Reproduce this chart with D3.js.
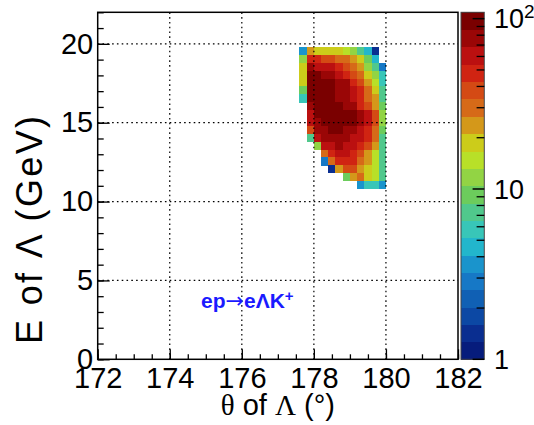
<!DOCTYPE html>
<html>
<head>
<meta charset="utf-8">
<script src="https://cdn.jsdelivr.net/npm/d3@7"></script>
<style>
  body { margin: 0; background: #fff; }
  svg { display: block; }
  text { font-family: "Liberation Sans", Arial, sans-serif; fill: #000; }
</style>
</head>
<body>
<svg id="chart" width="534" height="425"></svg>
<script>
// Lower bin edges of the 2D histogram (theta in degrees, energy in GeV)
const thetaLow = [177.6, 177.8, 178.0, 178.2, 178.4, 178.6, 178.8, 179.0, 179.2, 179.4, 179.6, 179.8];
const energyLow = [19.3, 18.8, 18.3, 17.8, 17.3, 16.8, 16.3, 15.8, 15.3, 14.8, 14.3, 13.8, 13.3, 12.8, 12.3, 11.8, 11.3, 10.8];

// Bin contents, one row per energy bin (top row = highest energy), 0 = empty
const counts = [
  [ 4, 24,  19,  18,  20,  17, 15, 12,  7,  5, 1.4, 0],
  [12, 46,  44,  38,  36,  31, 29, 23, 18,  9,  5,  0],
  [18, 74,  62,  60,  57,  47, 39, 30, 24, 12,  7,  3],
  [19, 92,  90,  80,  76,  63, 49, 40, 31, 19, 11,  6],
  [17, 98, 101,  96,  91,  82, 75, 50, 37, 25, 15,  6],
  [ 9, 97, 104, 102,  95,  84, 78, 64, 47, 30, 20,  7],
  [ 6, 94, 106, 105,  98,  86, 80, 66, 51, 32, 23,  8],
  [ 0, 84, 100, 107, 102,  93, 85, 72, 53, 40, 24,  9],
  [ 0, 64,  96, 103, 105,  99, 95, 88, 78, 62, 38, 11],
  [ 0, 58,  84,  97, 104, 101, 97, 90, 80, 65, 41, 13],
  [ 0, 36,  79,  83,  94,  92, 85, 80, 63, 49, 31, 10],
  [ 0,  8,  66,  76,  82,  84, 79, 67, 60, 46, 33,  8],
  [ 0,  0,  12,  61,  65,  71, 66, 59, 50, 41, 26,  8],
  [ 0,  0,   0,  29,  48,  58, 56, 47, 39, 24, 16,  7],
  [ 0,  0,   0,   3,  30,  45, 52, 44, 32, 22, 15,  7],
  [ 0,  0,   0,   0, 1.4,  23, 37, 35, 25, 18, 14,  8],
  [ 0,  0,   0,   0,   0,   0,  9, 22, 28, 19, 15,  7],
  [ 0,  0,   0,   0,   0,   0,  0,  0,  4,  6,  6,  4]
];

const xTickValues = [172, 174, 176, 178, 180, 182];
const yTickValues = [0, 5, 10, 15, 20];
const zRange = [1, 109];
const zLabels = [
  { value: 1, base: "1", exp: "" },
  { value: 10, base: "10", exp: "" },
  { value: 100, base: "10", exp: "2" }
];

// Colour levels, lowest to highest
const paletteColors = [
  "#061c7c", "#0a2e90", "#0c48a4", "#1060b4", "#1678c6",
  "#1a94cc", "#22b6cc", "#38c6b8", "#50c88c", "#6ccc5c",
  "#92d444", "#b8e028", "#cccc1a", "#d4981a", "#d66a18",
  "#d44a14", "#d02412", "#bb1010", "#9a0606", "#7a0000"
];

const svg = d3.select("#chart");
const W = 534, H = 425;
const frame = { left: 97.7, right: 458, top: 12.3, bottom: 359.3 };

const x = d3.scaleLinear().domain([172, 182]).range([frame.left, frame.right]);
const y = d3.scaleLinear().domain([0, 22]).range([frame.bottom, frame.top]);
const zPos = d3.scaleLog().domain(zRange).range([frame.bottom, frame.top]);

const nLevels = paletteColors.length;
const logMax = Math.log10(zRange[1]) - Math.log10(zRange[0]);
function colorOf(v) {
  const i = Math.floor(nLevels * (Math.log10(v) - Math.log10(zRange[0])) / logMax);
  return paletteColors[Math.max(0, Math.min(nLevels - 1, i))];
}

svg.append("rect").attr("width", W).attr("height", H).attr("fill", "#fff");

// Histogram cells
const dTheta = thetaLow[1] - thetaLow[0];
const dE = energyLow[0] - energyLow[1];
const cells = [];
counts.forEach((row, r) => row.forEach((v, c) => {
  if (v > 0) cells.push({ t: thetaLow[c], e: energyLow[r], v });
}));

svg.append("g").selectAll("rect").data(cells).join("rect")
  .attr("x", d => x(d.t))
  .attr("y", d => y(d.e + dE))
  .attr("width", d => x(d.t + dTheta) - x(d.t) + 0.3)
  .attr("height", d => y(d.e) - y(d.e + dE) + 0.3)
  .attr("fill", d => colorOf(d.v))
  .attr("shape-rendering", "crispEdges");

// Dotted grid
const grid = svg.append("g").attr("stroke", "#000").attr("stroke-width", 1.2)
  .attr("stroke-dasharray", "1.6,3.2");
grid.selectAll("line.gx").data(xTickValues.slice(1, -1)).join("line")
  .attr("x1", d => x(d)).attr("x2", d => x(d))
  .attr("y1", frame.top).attr("y2", frame.bottom);
grid.selectAll("line.gy").data(yTickValues.slice(1)).join("line")
  .attr("x1", frame.left).attr("x2", frame.right)
  .attr("y1", d => y(d)).attr("y2", d => y(d));

// Axes with ticks pointing into the frame
const labelSize = 29;
const xMinor = d3.range(172, 182.01, 0.5);
const yMinor = d3.range(0, 22.01, 1);

const xAxisMinor = d3.axisBottom(x).tickValues(xMinor).tickSizeInner(-5).tickSizeOuter(0).tickFormat("");
const xAxisMajor = d3.axisBottom(x).tickValues(xTickValues).tickSizeInner(-10).tickSizeOuter(0)
  .tickPadding(8).tickFormat(d3.format("d"));
const yAxisMinor = d3.axisLeft(y).tickValues(yMinor).tickSizeInner(-6).tickSizeOuter(0).tickFormat("");
const yAxisMajor = d3.axisLeft(y).tickValues(yTickValues).tickSizeInner(-12).tickSizeOuter(0)
  .tickPadding(4.5).tickFormat(d3.format("d"));

function styleAxis(g) {
  g.select(".domain").remove();
  g.selectAll(".tick line").attr("stroke", "#000").attr("stroke-width", 1.3);
  g.selectAll("text").attr("font-size", labelSize)
    .attr("font-family", '"Liberation Sans", Arial, sans-serif').attr("fill", "#000");
}
svg.append("g").attr("transform", `translate(0,${frame.bottom})`).call(xAxisMinor).call(styleAxis);
svg.append("g").attr("transform", `translate(0,${frame.bottom})`).call(xAxisMajor).call(styleAxis);
svg.append("g").attr("transform", `translate(${frame.left},0)`).call(yAxisMinor).call(styleAxis);
svg.append("g").attr("transform", `translate(${frame.left},0)`).call(yAxisMajor).call(styleAxis);

// Frame
svg.append("rect")
  .attr("x", frame.left).attr("y", frame.top)
  .attr("width", frame.right - frame.left).attr("height", frame.bottom - frame.top)
  .attr("fill", "none").attr("stroke", "#000").attr("stroke-width", 1.5);

// Colour palette
const pal = { left: 461, right: 484.3 };
const levelEdges = d3.range(nLevels + 1).map(i => Math.pow(10, Math.log10(zRange[0]) + logMax * i / nLevels));
svg.append("g").selectAll("rect").data(paletteColors).join("rect")
  .attr("x", pal.left)
  .attr("y", (d, i) => zPos(levelEdges[i + 1]))
  .attr("width", pal.right - pal.left)
  .attr("height", (d, i) => zPos(levelEdges[i]) - zPos(levelEdges[i + 1]) + 0.4)
  .attr("fill", d => d)
  .attr("shape-rendering", "crispEdges");
svg.append("rect")
  .attr("x", pal.left).attr("y", frame.top)
  .attr("width", pal.right - pal.left).attr("height", frame.bottom - frame.top)
  .attr("fill", "none").attr("stroke", "#444").attr("stroke-width", 1);

const zMinor = [2, 3, 4, 5, 6, 7, 8, 9, 20, 30, 40, 50, 60, 70, 80, 90];
const zMajor = zLabels.map(d => d.value);
svg.append("g").selectAll("line").data(zMinor).join("line")
  .attr("x1", pal.right - 7.7).attr("x2", pal.right)
  .attr("y1", d => zPos(d)).attr("y2", d => zPos(d))
  .attr("stroke", "#000").attr("stroke-width", 1.3);
svg.append("g").selectAll("line").data(zMajor).join("line")
  .attr("x1", pal.right - 11.7).attr("x2", pal.right)
  .attr("y1", d => zPos(d)).attr("y2", d => zPos(d))
  .attr("stroke", "#000").attr("stroke-width", 1.5);

const zText = svg.append("g").selectAll("text").data(zLabels).join("text")
  .attr("x", 494)
  .attr("y", d => zPos(d.value))
  .attr("dy", "0.36em")
  .attr("font-size", 27);
zText.append("tspan").text(d => d.base);
zText.filter(d => d.exp).append("tspan")
  .attr("dy", "-0.55em").attr("font-size", 19).text(d => d.exp);

// Axis titles
const serif = '"Liberation Serif", "Times New Roman", serif';
const xTitle = svg.append("text")
  .attr("x", (frame.left + frame.right) / 2).attr("y", 415)
  .attr("text-anchor", "middle").attr("font-size", 29);
xTitle.append("tspan").attr("font-family", serif).text("θ");
xTitle.append("tspan").text(" of ");
xTitle.append("tspan").attr("font-family", serif).text("Λ");
xTitle.append("tspan").text(" (°)");

svg.append("text")
  .attr("transform", "translate(42,230) rotate(-90)")
  .attr("text-anchor", "middle").attr("font-size", 36)
  .attr("textLength", 228).attr("lengthAdjust", "spacing")
  .text("E of Λ (GeV)");

// Reaction label
const reac = svg.append("text")
  .attr("x", 201).attr("y", 308)
  .attr("font-size", 21).attr("font-weight", "bold").style("fill", "#1a1aff");
reac.append("tspan").text("ep");
reac.append("tspan").attr("font-weight", "normal")
  .attr("font-family", '"DejaVu Sans", sans-serif').attr("font-size", 22).text("→");
reac.append("tspan").text("eΛK");
reac.append("tspan").attr("dy", "-0.5em").attr("font-size", 15).text("+");
</script>
</body>
</html>
